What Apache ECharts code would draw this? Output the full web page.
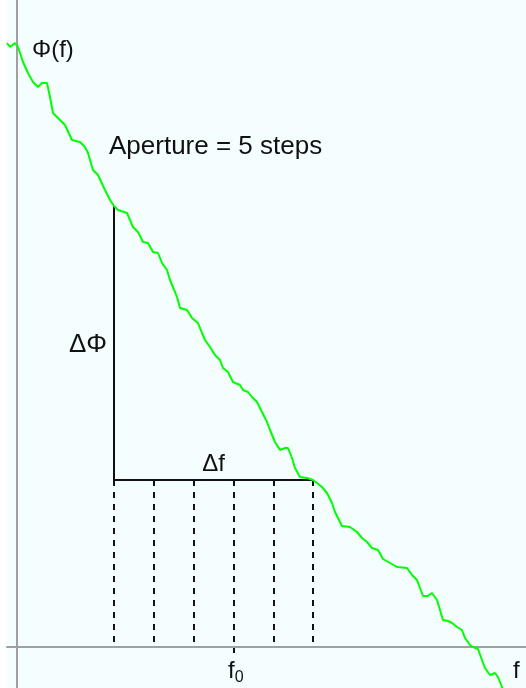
<!DOCTYPE html>
<html>
<head>
<meta charset="utf-8">
<script src="https://cdn.jsdelivr.net/npm/echarts@6/dist/echarts.min.js"></script>
<style>
html,body{margin:0;padding:0;background:#ffffff;}
#c{width:526px;height:688px;}
</style>
</head>
<body>
<div id="c"></div>
<script>
// Frequency (f) and phase (Phi) samples of the noisy phase curve
var fVals = [-10,-7,-2,1,6,11,16,21,25,30,33,36,41,48,55,63,68,71,76,81,88,93,97,101,110,116,121,126,131,136,141,145,150,153,158,160,163,170,175,181,185,188,193,198,203,206,211,216,223,226,231,235,240,245,250,253,258,263,268,271,275,278,283,290,296,300,305,310,315,318,321,325,333,340,345,350,355,361,366,373,380,390,395,400,403,406,411,415,420,423,426,431,435,440,445,448,453,456,461,465,468,473,478,481,485,487];
var phiVals = [604,600,604,600,585,574,565,560,564,564,550,534,529,522,507,505,500,494,477,472,457,447,441,437,434,420,415,405,404,395,394,384,377,367,355,350,339,337,329,324,314,307,300,292,287,279,275,265,262,257,255,250,245,235,225,217,205,197,199,199,189,179,170,169,167,164,160,154,144,135,129,121,120,115,109,105,99,97,88,84,80,79,72,67,59,51,51,54,47,37,27,26,24,20,17,9,2,0,-2,-13,-21,-28,-26,-30,-40,-45];
// Aperture step positions along f (5 steps)
var stepF = [97,137,177,217,257,296];
var f0 = 217;
var labels = {phi:'\u03A6(f)', aperture:'Aperture = 5 steps', dPhi:'\u0394\u03A6', df:'\u0394f', f:'f', f0:'f', f0sub:'0'};

function phiAt(f){ return phiVals[fVals.indexOf(f)]; }
var fStart = stepF[0], fEnd = stepF[stepF.length-1];

var series = [];
series.push({
  type:'line', data: fVals.map(function(v,i){return [v, phiVals[i]];}),
  showSymbol:false, lineStyle:{color:'#00ff00', width:2}, z:5, silent:true
});
series.push({
  type:'line', data:[[fStart, phiAt(fStart)],[fStart, phiAt(fEnd)],[fEnd, phiAt(fEnd)]],
  showSymbol:false, lineStyle:{color:'#111111', width:2}, z:4, silent:true
});
stepF.forEach(function(s){
  series.push({
    type:'line', data:[[s, phiAt(fEnd)],[s, s===f0 ? -6 : 0]],
    showSymbol:false, lineStyle:{color:'#111111', width:2, type:[6,6]}, z:3, silent:true
  });
});

var font = "'Liberation Sans', Arial, sans-serif";

var chart = echarts.init(document.getElementById('c'), null, {renderer:'canvas'});
chart.setOption({
  animation:false,
  backgroundColor:'#ffffff',
  grid:{left:7, right:0, top:0, bottom:0, show:true, backgroundColor:'#f5fefe', borderWidth:0},
  xAxis:{type:'value', min:-10, max:509, axisLine:{onZero:true, lineStyle:{color:'#a0a0a0', width:2}}, axisTick:{show:false}, axisLabel:{show:false}, splitLine:{show:false}},
  yAxis:{type:'value', min:-41, max:647, axisLine:{onZero:true, lineStyle:{color:'#a0a0a0', width:2}}, axisTick:{show:false}, axisLabel:{show:false}, splitLine:{show:false}},
  series: series
});

function px(f,p){ return chart.convertToPixel({gridIndex:0}, [f,p]); }
var pF0 = px(f0, 0);
var pEnd = px(fEnd, phiAt(fEnd));
var pStart = px(fStart, phiAt(fStart));
chart.setOption({
  graphic:[
    {type:'text', x:32, y:50, style:{text:labels.phi, fill:'#111', font:'24px '+font, textVerticalAlign:'middle'}, z:10},
    {type:'text', x:109, y:147, style:{text:labels.aperture, fill:'#111', font:'26px '+font, textVerticalAlign:'middle'}, z:10},
    {type:'text', x:pStart[0]-7, y:(pStart[1]+pEnd[1])/2+2, style:{text:labels.dPhi, fill:'#111', font:'26px '+font, textAlign:'right', textVerticalAlign:'middle'}, z:10},
    {type:'text', x:(pStart[0]+pEnd[0])/2, y:pEnd[1]-16, style:{text:labels.df, fill:'#111', font:'24px '+font, textAlign:'center', textVerticalAlign:'middle'}, z:10},
    {type:'text', x:pF0[0]-6, y:pF0[1]+24, style:{text:'{a|'+labels.f0+'}{b|'+labels.f0sub+'}', fill:'#111', textVerticalAlign:'middle',
      rich:{a:{font:'24px '+font, fill:'#111'}, b:{font:'16px '+font, fill:'#111', padding:[14,0,0,0]}}}, z:10},
    {type:'text', x:513, y:pF0[1]+24, style:{text:labels.f, fill:'#111', font:'24px '+font, textVerticalAlign:'middle'}, z:10}
  ]
});
</script>
</body>
</html>
